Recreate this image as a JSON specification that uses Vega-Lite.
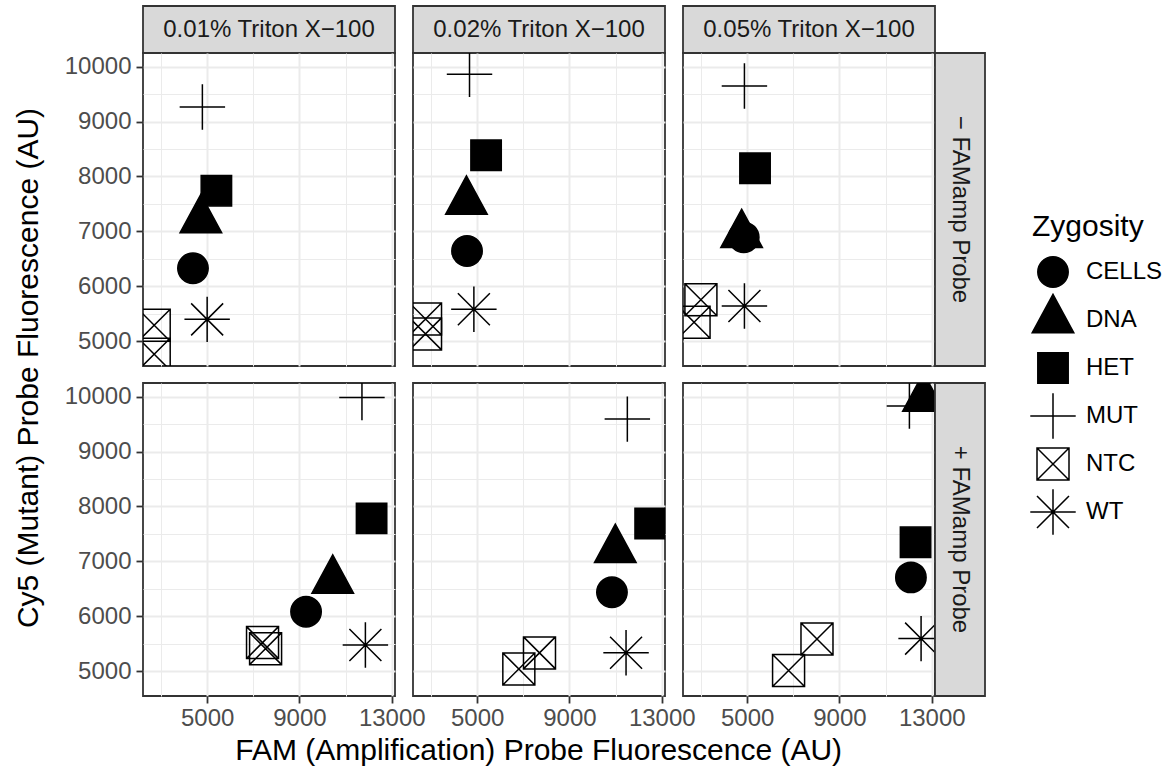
{
  "$schema": "https://vega.github.io/schema/vega-lite/v6.json",
  "padding": {"left": 14, "top": 5, "right": 5, "bottom": 5},
  "config": {
    "font": "Liberation Sans",
    "view": {"stroke": "#333333", "strokeWidth": 1.8},
    "axis": {"gridColor": "#EBEBEB", "labelFont": "Liberation Sans", "labelFontSize": 24, "labelColor": "#4D4D4D", "tickColor": "#333333", "tickWidth": 1.8, "tickSize": 7, "domain": false, "labelFlush": false, "labelOverlap": false, "labelBound": false},
    "legend": {"titleFont": "Liberation Sans", "titleFontSize": 30, "titleFontWeight": "normal", "titleColor": "black", "labelFont": "Liberation Sans", "labelFontSize": 24, "labelColor": "black", "symbolSize": 1024, "symbolStrokeWidth": 1.5, "symbolStrokeColor": "black", "rowPadding": -7, "labelOffset": 16, "titlePadding": 13, "symbolOffset": 4, "gridAlign": "all"}
  },
  "data": {"values": [
    {"triton": "0.01% Triton X−100", "probe": "− FAMamp Probe", "Zygosity": "CELLS", "FAM": 4385, "Cy5": 6327},
    {"triton": "0.01% Triton X−100", "probe": "− FAMamp Probe", "Zygosity": "DNA", "FAM": 4727, "Cy5": 7207},
    {"triton": "0.01% Triton X−100", "probe": "− FAMamp Probe", "Zygosity": "HET", "FAM": 5400, "Cy5": 7740},
    {"triton": "0.01% Triton X−100", "probe": "− FAMamp Probe", "Zygosity": "MUT", "FAM": 4793, "Cy5": 9265},
    {"triton": "0.01% Triton X−100", "probe": "− FAMamp Probe", "Zygosity": "NTC", "FAM": 2705, "Cy5": 5288},
    {"triton": "0.01% Triton X−100", "probe": "− FAMamp Probe", "Zygosity": "NTC", "FAM": 2705, "Cy5": 4760},
    {"triton": "0.01% Triton X−100", "probe": "− FAMamp Probe", "Zygosity": "WT", "FAM": 5000, "Cy5": 5395},
    {"triton": "0.02% Triton X−100", "probe": "− FAMamp Probe", "Zygosity": "CELLS", "FAM": 4561, "Cy5": 6640},
    {"triton": "0.02% Triton X−100", "probe": "− FAMamp Probe", "Zygosity": "DNA", "FAM": 4536, "Cy5": 7545},
    {"triton": "0.02% Triton X−100", "probe": "− FAMamp Probe", "Zygosity": "HET", "FAM": 5387, "Cy5": 8387},
    {"triton": "0.02% Triton X−100", "probe": "− FAMamp Probe", "Zygosity": "MUT", "FAM": 4669, "Cy5": 9861},
    {"triton": "0.02% Triton X−100", "probe": "− FAMamp Probe", "Zygosity": "NTC", "FAM": 2763, "Cy5": 5400},
    {"triton": "0.02% Triton X−100", "probe": "− FAMamp Probe", "Zygosity": "NTC", "FAM": 2763, "Cy5": 5130},
    {"triton": "0.02% Triton X−100", "probe": "− FAMamp Probe", "Zygosity": "WT", "FAM": 4858, "Cy5": 5578},
    {"triton": "0.05% Triton X−100", "probe": "− FAMamp Probe", "Zygosity": "CELLS", "FAM": 4852, "Cy5": 6890},
    {"triton": "0.05% Triton X−100", "probe": "− FAMamp Probe", "Zygosity": "DNA", "FAM": 4760, "Cy5": 6936},
    {"triton": "0.05% Triton X−100", "probe": "− FAMamp Probe", "Zygosity": "HET", "FAM": 5341, "Cy5": 8150},
    {"triton": "0.05% Triton X−100", "probe": "− FAMamp Probe", "Zygosity": "MUT", "FAM": 4882, "Cy5": 9648},
    {"triton": "0.05% Triton X−100", "probe": "− FAMamp Probe", "Zygosity": "NTC", "FAM": 2996, "Cy5": 5751},
    {"triton": "0.05% Triton X−100", "probe": "− FAMamp Probe", "Zygosity": "NTC", "FAM": 2699, "Cy5": 5343},
    {"triton": "0.05% Triton X−100", "probe": "− FAMamp Probe", "Zygosity": "WT", "FAM": 4882, "Cy5": 5638},
    {"triton": "0.01% Triton X−100", "probe": "+ FAMamp Probe", "Zygosity": "CELLS", "FAM": 9286, "Cy5": 6081},
    {"triton": "0.01% Triton X−100", "probe": "+ FAMamp Probe", "Zygosity": "DNA", "FAM": 10442, "Cy5": 6652},
    {"triton": "0.01% Triton X−100", "probe": "+ FAMamp Probe", "Zygosity": "HET", "FAM": 12125, "Cy5": 7783},
    {"triton": "0.01% Triton X−100", "probe": "+ FAMamp Probe", "Zygosity": "MUT", "FAM": 11708, "Cy5": 9985},
    {"triton": "0.01% Triton X−100", "probe": "+ FAMamp Probe", "Zygosity": "NTC", "FAM": 7400, "Cy5": 5518},
    {"triton": "0.01% Triton X−100", "probe": "+ FAMamp Probe", "Zygosity": "NTC", "FAM": 7532, "Cy5": 5408},
    {"triton": "0.01% Triton X−100", "probe": "+ FAMamp Probe", "Zygosity": "WT", "FAM": 11857, "Cy5": 5476},
    {"triton": "0.02% Triton X−100", "probe": "+ FAMamp Probe", "Zygosity": "CELLS", "FAM": 10841, "Cy5": 6436},
    {"triton": "0.02% Triton X−100", "probe": "+ FAMamp Probe", "Zygosity": "DNA", "FAM": 10987, "Cy5": 7210},
    {"triton": "0.02% Triton X−100", "probe": "+ FAMamp Probe", "Zygosity": "HET", "FAM": 12497, "Cy5": 7689},
    {"triton": "0.02% Triton X−100", "probe": "+ FAMamp Probe", "Zygosity": "MUT", "FAM": 11508, "Cy5": 9592},
    {"triton": "0.02% Triton X−100", "probe": "+ FAMamp Probe", "Zygosity": "NTC", "FAM": 6806, "Cy5": 5038},
    {"triton": "0.02% Triton X−100", "probe": "+ FAMamp Probe", "Zygosity": "NTC", "FAM": 7701, "Cy5": 5331},
    {"triton": "0.02% Triton X−100", "probe": "+ FAMamp Probe", "Zygosity": "WT", "FAM": 11452, "Cy5": 5335},
    {"triton": "0.05% Triton X−100", "probe": "+ FAMamp Probe", "Zygosity": "CELLS", "FAM": 12096, "Cy5": 6707},
    {"triton": "0.05% Triton X−100", "probe": "+ FAMamp Probe", "Zygosity": "DNA", "FAM": 12640, "Cy5": 9970},
    {"triton": "0.05% Triton X−100", "probe": "+ FAMamp Probe", "Zygosity": "HET", "FAM": 12297, "Cy5": 7347},
    {"triton": "0.05% Triton X−100", "probe": "+ FAMamp Probe", "Zygosity": "MUT", "FAM": 12031, "Cy5": 9830},
    {"triton": "0.05% Triton X−100", "probe": "+ FAMamp Probe", "Zygosity": "NTC", "FAM": 6795, "Cy5": 5009},
    {"triton": "0.05% Triton X−100", "probe": "+ FAMamp Probe", "Zygosity": "NTC", "FAM": 8026, "Cy5": 5585},
    {"triton": "0.05% Triton X−100", "probe": "+ FAMamp Probe", "Zygosity": "WT", "FAM": 12537, "Cy5": 5591}
  ]},
  "title": {"text": "FAM (Amplification) Probe Fluorescence (AU)", "orient": "bottom", "anchor": "middle", "fontSize": 30, "fontWeight": "normal", "color": "black", "font": "Liberation Sans", "offset": 5, "dx": -50},
  "vconcat": [
    {
      "title": {"text": "Cy5 (Mutant) Probe Fluorescence (AU)", "orient": "left", "anchor": "middle", "fontSize": 30, "fontWeight": "normal", "color": "black", "font": "Liberation Sans", "offset": 19},
      "spacing": 15,
      "vconcat": [
        {
          "bounds": "flush",
          "columns": 3,
          "spacing": {"row": 0, "column": 18},
          "concat": [
            {"width": 252, "height": 47, "data": {"values": [{"triton": "0.01% Triton X−100"}]}, "view": {"fill": "#D9D9D9", "stroke": "#333333", "strokeWidth": 1.8}, "mark": {"type": "text", "fontSize": 24, "color": "#1A1A1A", "font": "Liberation Sans"}, "encoding": {"text": {"field": "triton"}}},
            {"width": 252, "height": 47, "data": {"values": [{"triton": "0.02% Triton X−100"}]}, "view": {"fill": "#D9D9D9", "stroke": "#333333", "strokeWidth": 1.8}, "mark": {"type": "text", "fontSize": 24, "color": "#1A1A1A", "font": "Liberation Sans"}, "encoding": {"text": {"field": "triton"}}},
            {"width": 252, "height": 47, "data": {"values": [{"triton": "0.05% Triton X−100"}]}, "view": {"fill": "#D9D9D9", "stroke": "#333333", "strokeWidth": 1.8}, "mark": {"type": "text", "fontSize": 24, "color": "#1A1A1A", "font": "Liberation Sans"}, "encoding": {"text": {"field": "triton"}}},
            {
              "width": 252, "height": 313,
              "transform": [{"filter": {"and": [{"field": "triton", "equal": "0.01% Triton X−100"}, {"field": "probe", "equal": "− FAMamp Probe"}]}}],
              "mark": {"type": "point", "clip": true, "size": 1024, "strokeWidth": 1.5, "opacity": 1},
              "encoding": {
                "x": {"field": "FAM", "type": "quantitative", "scale": {"domain": [2220, 13140], "nice": false, "zero": false}, "axis": {"values": [3000, 5000, 7000, 9000, 11000, 13000], "labels": false, "ticks": false, "title": null, "gridWidth": {"condition": {"test": "datum.value % 4000 == 1000", "value": 2}, "value": 1}}},
                "y": {"field": "Cy5", "type": "quantitative", "scale": {"domain": [4545, 10250], "nice": false, "zero": false}, "axis": {"values": [5000, 5500, 6000, 6500, 7000, 7500, 8000, 8500, 9000, 9500, 10000], "format": "d", "labelExpr": "datum.value % 1000 == 0 ? datum.label : ''", "labelPadding": 5, "title": null, "tickOpacity": {"condition": {"test": "datum.value % 1000 == 0", "value": 1}, "value": 0}, "gridWidth": {"condition": {"test": "datum.value % 1000 == 0", "value": 2}, "value": 1}}},
                "shape": {"field": "Zygosity", "type": "nominal", "scale": {"domain": ["CELLS", "DNA", "HET", "MUT", "NTC", "WT"], "range": ["M-0.95,0A0.95,0.95,0,1,1,0.95,0A0.95,0.95,0,1,1,-0.95,0Z", "M0,-1.6L1.3,0.8L-1.3,0.8Z", "M-0.95,-0.95H0.95V0.95H-0.95Z", "M-1.42,0H1.42M0,-1.42V1.42", "M-1,-1H1V1H-1ZM-1,-1L1,1M-1,1L1,-1", "M-1.42,0H1.42M0,-1.42V1.42M-1,-1L1,1M-1,1L1,-1"]}, "legend": {"title": "Zygosity", "orient": "none", "legendX": 889, "legendY": 206, "symbolStrokeColor": "black", "symbolStrokeWidth": 1.5}},
                "fill": {"field": "Zygosity", "type": "nominal", "scale": {"domain": ["CELLS", "DNA", "HET", "MUT", "NTC", "WT"], "range": ["black", "black", "black", "transparent", "transparent", "transparent"]}, "legend": {"title": "Zygosity", "orient": "none", "legendX": 889, "legendY": 206, "symbolStrokeColor": "black", "symbolStrokeWidth": 1.5}},
                "stroke": {"field": "Zygosity", "type": "nominal", "scale": {"domain": ["CELLS", "DNA", "HET", "MUT", "NTC", "WT"], "range": ["black", "black", "black", "black", "black", "black"]}, "legend": {"title": "Zygosity", "orient": "none", "legendX": 889, "legendY": 206, "symbolStrokeWidth": 1.5}}
              }
            },
            {
              "width": 252, "height": 313,
              "transform": [{"filter": {"and": [{"field": "triton", "equal": "0.02% Triton X−100"}, {"field": "probe", "equal": "− FAMamp Probe"}]}}],
              "mark": {"type": "point", "clip": true, "size": 1024, "strokeWidth": 1.5, "opacity": 1},
              "encoding": {
                "x": {"field": "FAM", "type": "quantitative", "scale": {"domain": [2220, 13140], "nice": false, "zero": false}, "axis": {"values": [3000, 5000, 7000, 9000, 11000, 13000], "labels": false, "ticks": false, "title": null, "gridWidth": {"condition": {"test": "datum.value % 4000 == 1000", "value": 2}, "value": 1}}},
                "y": {"field": "Cy5", "type": "quantitative", "scale": {"domain": [4545, 10250], "nice": false, "zero": false}, "axis": {"values": [5000, 5500, 6000, 6500, 7000, 7500, 8000, 8500, 9000, 9500, 10000], "labels": false, "ticks": false, "title": null, "gridWidth": {"condition": {"test": "datum.value % 1000 == 0", "value": 2}, "value": 1}}},
                "shape": {"field": "Zygosity", "type": "nominal"},
                "fill": {"field": "Zygosity", "type": "nominal"},
                "stroke": {"field": "Zygosity", "type": "nominal"}
              }
            },
            {
              "bounds": "flush",
              "spacing": 0,
              "hconcat": [
                {
                  "width": 252, "height": 313,
                  "transform": [{"filter": {"and": [{"field": "triton", "equal": "0.05% Triton X−100"}, {"field": "probe", "equal": "− FAMamp Probe"}]}}],
                  "mark": {"type": "point", "clip": true, "size": 1024, "strokeWidth": 1.5, "opacity": 1},
                  "encoding": {
                    "x": {"field": "FAM", "type": "quantitative", "scale": {"domain": [2220, 13140], "nice": false, "zero": false}, "axis": {"values": [3000, 5000, 7000, 9000, 11000, 13000], "labels": false, "ticks": false, "title": null, "gridWidth": {"condition": {"test": "datum.value % 4000 == 1000", "value": 2}, "value": 1}}},
                    "y": {"field": "Cy5", "type": "quantitative", "scale": {"domain": [4545, 10250], "nice": false, "zero": false}, "axis": {"values": [5000, 5500, 6000, 6500, 7000, 7500, 8000, 8500, 9000, 9500, 10000], "labels": false, "ticks": false, "title": null, "gridWidth": {"condition": {"test": "datum.value % 1000 == 0", "value": 2}, "value": 1}}},
                    "shape": {"field": "Zygosity", "type": "nominal"},
                    "fill": {"field": "Zygosity", "type": "nominal"},
                    "stroke": {"field": "Zygosity", "type": "nominal"}
                  }
                },
                {"width": 50, "height": 313, "data": {"values": [{"probe": "− FAMamp Probe"}]}, "view": {"fill": "#D9D9D9", "stroke": "#333333", "strokeWidth": 1.8}, "mark": {"type": "text", "angle": 90, "fontSize": 24, "color": "#1A1A1A", "font": "Liberation Sans"}, "encoding": {"text": {"field": "probe"}}}
              ]
            }
          ]
        },
        {
          "bounds": "flush",
          "spacing": 18,
          "hconcat": [
            {
              "width": 252, "height": 313,
              "transform": [{"filter": {"and": [{"field": "triton", "equal": "0.01% Triton X−100"}, {"field": "probe", "equal": "+ FAMamp Probe"}]}}],
              "mark": {"type": "point", "clip": true, "size": 1024, "strokeWidth": 1.5, "opacity": 1},
              "encoding": {
                "x": {"field": "FAM", "type": "quantitative", "scale": {"domain": [2220, 13140], "nice": false, "zero": false}, "axis": {"values": [3000, 5000, 7000, 9000, 11000, 13000], "format": "d", "labelExpr": "datum.value % 4000 == 1000 ? datum.label : ''", "labelPadding": 3, "title": null, "tickOpacity": {"condition": {"test": "datum.value % 4000 == 1000", "value": 1}, "value": 0}, "gridWidth": {"condition": {"test": "datum.value % 4000 == 1000", "value": 2}, "value": 1}}},
                "y": {"field": "Cy5", "type": "quantitative", "scale": {"domain": [4545, 10250], "nice": false, "zero": false}, "axis": {"values": [5000, 5500, 6000, 6500, 7000, 7500, 8000, 8500, 9000, 9500, 10000], "format": "d", "labelExpr": "datum.value % 1000 == 0 ? datum.label : ''", "labelPadding": 5, "title": null, "tickOpacity": {"condition": {"test": "datum.value % 1000 == 0", "value": 1}, "value": 0}, "gridWidth": {"condition": {"test": "datum.value % 1000 == 0", "value": 2}, "value": 1}}},
                "shape": {"field": "Zygosity", "type": "nominal"},
                "fill": {"field": "Zygosity", "type": "nominal"},
                "stroke": {"field": "Zygosity", "type": "nominal"}
              }
            },
            {
              "width": 252, "height": 313,
              "transform": [{"filter": {"and": [{"field": "triton", "equal": "0.02% Triton X−100"}, {"field": "probe", "equal": "+ FAMamp Probe"}]}}],
              "mark": {"type": "point", "clip": true, "size": 1024, "strokeWidth": 1.5, "opacity": 1},
              "encoding": {
                "x": {"field": "FAM", "type": "quantitative", "scale": {"domain": [2220, 13140], "nice": false, "zero": false}, "axis": {"values": [3000, 5000, 7000, 9000, 11000, 13000], "format": "d", "labelExpr": "datum.value % 4000 == 1000 ? datum.label : ''", "labelPadding": 3, "title": null, "tickOpacity": {"condition": {"test": "datum.value % 4000 == 1000", "value": 1}, "value": 0}, "gridWidth": {"condition": {"test": "datum.value % 4000 == 1000", "value": 2}, "value": 1}}},
                "y": {"field": "Cy5", "type": "quantitative", "scale": {"domain": [4545, 10250], "nice": false, "zero": false}, "axis": {"values": [5000, 5500, 6000, 6500, 7000, 7500, 8000, 8500, 9000, 9500, 10000], "labels": false, "ticks": false, "title": null, "gridWidth": {"condition": {"test": "datum.value % 1000 == 0", "value": 2}, "value": 1}}},
                "shape": {"field": "Zygosity", "type": "nominal"},
                "fill": {"field": "Zygosity", "type": "nominal"},
                "stroke": {"field": "Zygosity", "type": "nominal"}
              }
            },
            {
              "bounds": "flush",
              "spacing": 0,
              "hconcat": [
                {
                  "width": 252, "height": 313,
                  "transform": [{"filter": {"and": [{"field": "triton", "equal": "0.05% Triton X−100"}, {"field": "probe", "equal": "+ FAMamp Probe"}]}}],
                  "mark": {"type": "point", "clip": true, "size": 1024, "strokeWidth": 1.5, "opacity": 1},
                  "encoding": {
                    "x": {"field": "FAM", "type": "quantitative", "scale": {"domain": [2220, 13140], "nice": false, "zero": false}, "axis": {"values": [3000, 5000, 7000, 9000, 11000, 13000], "format": "d", "labelExpr": "datum.value % 4000 == 1000 ? datum.label : ''", "labelPadding": 3, "title": null, "tickOpacity": {"condition": {"test": "datum.value % 4000 == 1000", "value": 1}, "value": 0}, "gridWidth": {"condition": {"test": "datum.value % 4000 == 1000", "value": 2}, "value": 1}}},
                    "y": {"field": "Cy5", "type": "quantitative", "scale": {"domain": [4545, 10250], "nice": false, "zero": false}, "axis": {"values": [5000, 5500, 6000, 6500, 7000, 7500, 8000, 8500, 9000, 9500, 10000], "labels": false, "ticks": false, "title": null, "gridWidth": {"condition": {"test": "datum.value % 1000 == 0", "value": 2}, "value": 1}}},
                    "shape": {"field": "Zygosity", "type": "nominal"},
                    "fill": {"field": "Zygosity", "type": "nominal"},
                    "stroke": {"field": "Zygosity", "type": "nominal"}
                  }
                },
                {"width": 50, "height": 313, "data": {"values": [{"probe": "+ FAMamp Probe"}]}, "view": {"fill": "#D9D9D9", "stroke": "#333333", "strokeWidth": 1.8}, "mark": {"type": "text", "angle": 90, "fontSize": 24, "color": "#1A1A1A", "font": "Liberation Sans"}, "encoding": {"text": {"field": "probe"}}}
              ]
            }
          ]
        }
      ]
    }
  ]
}
